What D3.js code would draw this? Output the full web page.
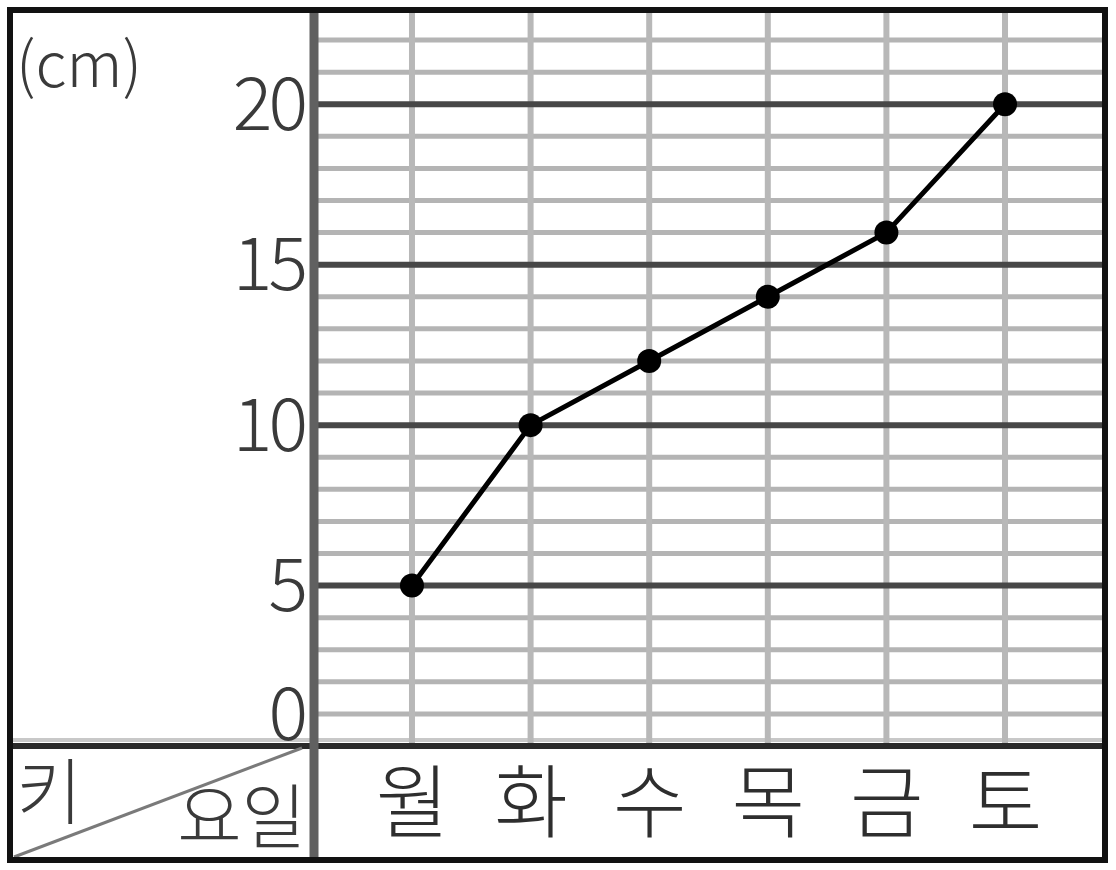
<!DOCTYPE html>
<html><head><meta charset="utf-8">
<script src="https://cdn.jsdelivr.net/npm/d3@7"></script>
<style>body{margin:0;background:#fff;}svg{display:block;}</style>
</head><body>
<svg id="c" width="1116" height="870"></svg>
<script>
const days = ["월","화","수","목","금","토"];
const heights = [5, 10, 12, 14, 16, 20];
const yTicks = [0, 5, 10, 15, 20];
const unitLabel = "(cm)";
const cornerTop = "키";
const cornerBottom = "요일";

const svg = d3.select("#c");
const L = 10, R = 1105, T = 10, B = 860, divX = 314, axisY = 746;
const font = "'Noto Sans CJK KR', 'Noto Sans', sans-serif";

const y = d3.scaleLinear().domain([0, 23]).range([axisY, 8]);
const x = d3.scalePoint().domain(days).range([312, R]).padding(0.843);

// minor grid
const minor = d3.range(1, 23).filter(v => v % 5 !== 0);
svg.append("g").selectAll("line").data(minor).join("line")
  .attr("x1", divX).attr("x2", R).attr("y1", d => y(d)).attr("y2", d => y(d))
  .attr("stroke", "#b4b4b4").attr("stroke-width", 5);
// light band just above the zero line
svg.append("line").attr("x1", L).attr("x2", R).attr("y1", axisY - 6).attr("y2", axisY - 6)
  .attr("stroke", "#c8c8c8").attr("stroke-width", 4);
// vertical day lines
svg.append("g").selectAll("line").data(days).join("line")
  .attr("x1", d => x(d)).attr("x2", d => x(d)).attr("y1", T).attr("y2", axisY)
  .attr("stroke", "#b8b8b8").attr("stroke-width", 6);
// major grid
svg.append("g").selectAll("line").data(yTicks.filter(v => v > 0)).join("line")
  .attr("x1", divX).attr("x2", R).attr("y1", d => y(d)).attr("y2", d => y(d))
  .attr("stroke", "#474747").attr("stroke-width", 6);

// y axis labels
const yAxis = d3.axisLeft(y).tickValues(yTicks).tickSize(0).tickPadding(0);
const ga = svg.append("g").attr("transform", `translate(${304},0)`).call(yAxis);
ga.select(".domain").remove();
ga.selectAll("text").attr("font-family", font).attr("font-size", 74)
  .attr("fill", "#3a3a3a").attr("font-weight", 300).attr("letter-spacing", -4)
  .attr("dy", "0.34em")
  .attr("transform", d => d === 0 ? "translate(0,-32)" : "translate(0,0)");

// axis line and divider
svg.append("line").attr("x1", L).attr("x2", R).attr("y1", axisY).attr("y2", axisY)
  .attr("stroke", "#2a2a2a").attr("stroke-width", 6);
svg.append("line").attr("x1", divX).attr("x2", divX).attr("y1", T).attr("y2", B)
  .attr("stroke", "#606060").attr("stroke-width", 9);

// diagonal
svg.append("line").attr("x1", L + 4).attr("y1", B - 3).attr("x2", 302).attr("y2", axisY + 2)
  .attr("stroke", "#7a7a7a").attr("stroke-width", 3);

// corner texts
svg.append("text").attr("x", 16).attr("y", 818).text(cornerTop)
  .attr("font-family", font).attr("font-size", 72).attr("fill", "#3a3a3a").attr("font-weight", 300);
svg.append("text").attr("x", 306).attr("y", 843).attr("text-anchor", "end").text(cornerBottom)
  .attr("font-family", font).attr("font-size", 70).attr("fill", "#3a3a3a").attr("font-weight", 300);

// unit label
svg.append("text").attr("x", 16).attr("y", 87).text(unitLabel)
  .attr("font-family", font).attr("font-size", 62).attr("fill", "#3a3a3a").attr("font-weight", 300);

// day labels
const xAxis = d3.axisBottom(x).tickSize(0).tickPadding(0);
const gx = svg.append("g").attr("transform", `translate(0,${axisY})`).call(xAxis);
gx.select(".domain").remove();
gx.selectAll("text").attr("font-family", font).attr("font-size", 80)
  .attr("fill", "#2e2e2e").attr("font-weight", 300).attr("dy", 0).attr("y", 85);

// line + points
const line = d3.line().x((d, i) => x(days[i])).y(d => y(d));
svg.append("path").datum(heights).attr("d", line)
  .attr("fill", "none").attr("stroke", "#000").attr("stroke-width", 5);
svg.append("g").selectAll("circle").data(heights).join("circle")
  .attr("cx", (d, i) => x(days[i])).attr("cy", d => y(d)).attr("r", 12).attr("fill", "#000");

// outer border
svg.append("rect").attr("x", L).attr("y", T).attr("width", R - L).attr("height", B - T)
  .attr("fill", "none").attr("stroke", "#111").attr("stroke-width", 6);
</script>
</body></html>
